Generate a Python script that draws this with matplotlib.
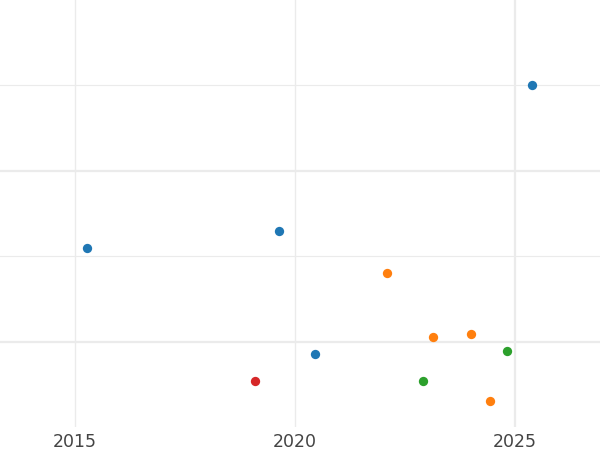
import matplotlib
matplotlib.use("Agg")
import matplotlib.pyplot as plt

blue_x = [2015.27, 2019.64, 2020.45, 2025.39]
blue_y = [1.10, 1.30, -0.15, 3.00]
orange_x = [2022.09, 2023.14, 2024.00, 2024.43]
orange_y = [0.80, 0.05, 0.09, -0.70]
green_x = [2022.91, 2024.82]
green_y = [-0.46, -0.11]
red_x = [2019.09]
red_y = [-0.46]
xticks = [2015, 2020, 2025]
xtick_labels = ["2015", "2020", "2025"]

fig = plt.figure(figsize=(6, 4.5), dpi=100)
ax = fig.add_axes([0, 1 - 427 / 450, 1, 427 / 450])
ax.set_xlim(2013.3, 2026.93)
ax.set_ylim(-1.0, 4.0)

for s in ax.spines.values():
    s.set_visible(False)

grid_c = "#ebebeb"
for y, lw in [(0, 1.6), (2, 1.6), (1, 0.8), (3, 0.8)]:
    ax.axhline(y, color=grid_c, lw=lw, zorder=0)
for x, lw in [(2015, 1.0), (2020, 1.0), (2025, 1.6)]:
    ax.axvline(x, color=grid_c, lw=lw, zorder=0)

for xs, ys, c in [(blue_x, blue_y, "#1f77b4"), (orange_x, orange_y, "#ff7f0e"),
                  (green_x, green_y, "#2ca02c"), (red_x, red_y, "#d62728")]:
    ax.scatter(xs, ys, s=45, color=c, zorder=3, linewidths=0)

ax.set_xticks(xticks)
ax.set_xticklabels(xtick_labels)
ax.set_yticks([])
ax.tick_params(axis="x", length=0, pad=4, labelsize=12.5, labelcolor="#444444")

fig.savefig("out.png", dpi=100)
